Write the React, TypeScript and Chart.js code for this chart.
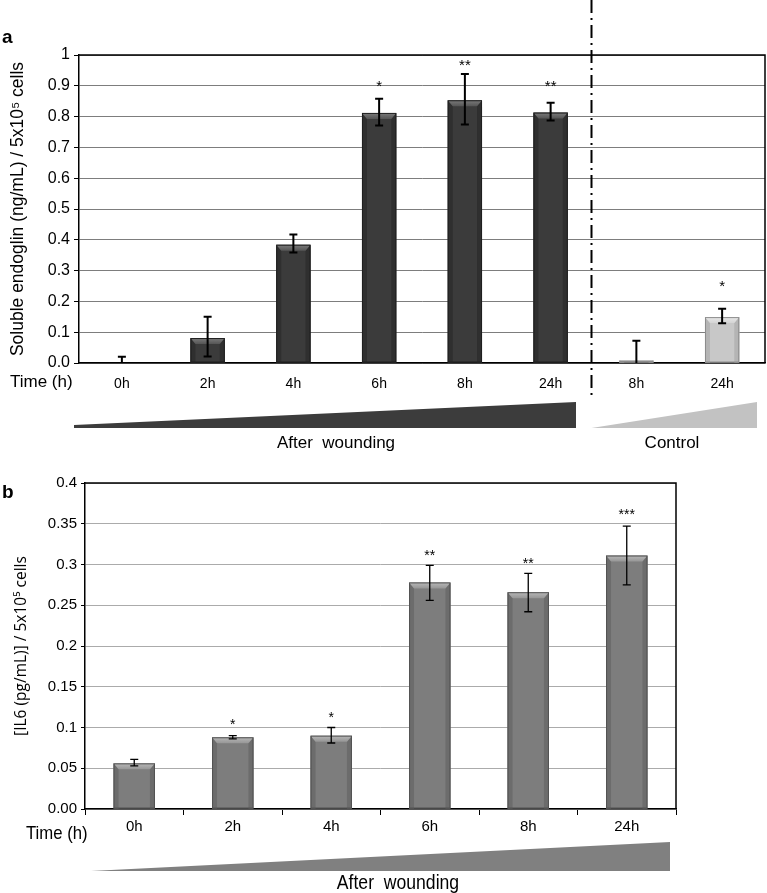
import React, { useEffect, useRef } from 'react';
import { Chart, registerables } from 'chart.js';

Chart.register(...registerables);

// ---------- Panel a data ----------
const categoriesA = ['0h', '2h', '4h', '6h', '8h', '24h', '8h', '24h'];
const groupA = ['wound', 'wound', 'wound', 'wound', 'wound', 'wound', 'control', 'control'];
const endoglin = [0, 0.081, 0.384, 0.812, 0.853, 0.813, 0.008, 0.149];
const endoglinLow = [0, 0.021, 0.359, 0.771, 0.774, 0.787, 0, 0.129];
const endoglinHigh = [0.02, 0.15, 0.417, 0.858, 0.938, 0.845, 0.072, 0.176];
const starsA = ['', '', '', '*', '**', '**', '', '*'];
const starsAPos: (number | null)[] = [null, null, null, 0.907, 0.975, 0.908, null, 0.26];
const yTicksA = ['0.0', '0.1', '0.2', '0.3', '0.4', '0.5', '0.6', '0.7', '0.8', '0.9', '1'];

// ---------- Panel b data ----------
const categoriesB = ['0h', '2h', '4h', '6h', '8h', '24h'];
const il6 = [0.056, 0.088, 0.090, 0.278, 0.266, 0.311];
const il6Low = [0.053, 0.086, 0.081, 0.256, 0.242, 0.275];
const il6High = [0.061, 0.090, 0.100, 0.299, 0.289, 0.347];
const starsB = ['', '*', '*', '**', '**', '***'];
const starsBPos: (number | null)[] = [null, 0.107, 0.115, 0.314, 0.305, 0.364];
const yTicksB = ['0.00', '0.05', '0.1', '0.15', '0.2', '0.25', '0.3', '0.35', '0.4'];

const SANS = "'Liberation Sans', Arial, sans-serif";
const OPEN = "'Open Sans', 'Noto Sans', sans-serif";

type Pal = { body: string; top: string; topDark: string; side: string; edge: string };
const WOUND: Pal = { body: '#3b3b3b', top: '#7c7c7c', topDark: '#555555', side: '#2f2f2f', edge: '#1f1f1f' };
const CONTROL: Pal = { body: '#c8c8c8', top: '#e8e8e8', topDark: '#d4d4d4', side: '#b4b4b4', edge: '#8c8c8c' };
const IL6P: Pal = { body: '#7d7d7d', top: '#b8b8b8', topDark: '#969696', side: '#6c6c6c', edge: '#525252' };

function narrowText(ctx: CanvasRenderingContext2D, text: string, x: number, y: number, sx: number) {
  ctx.save();
  ctx.translate(x, y);
  ctx.scale(sx, 1);
  ctx.fillText(text, 0, 0);
  ctx.restore();
}

function barDecor(
  palette: (i: number) => Pal,
  low: number[],
  high: number[],
  stars: string[],
  starPos: (number | null)[],
  errWidth: number,
  capW: number,
  starSize: number
) {
  return {
    id: 'barDecor',
    afterDatasetsDraw(chart: any) {
      const ctx = chart.ctx as CanvasRenderingContext2D;
      const meta = chart.getDatasetMeta(0);
      const ys = chart.scales.y;
      meta.data.forEach((el: any, i: number) => {
        const { x, y, base, width } = el.getProps(['x', 'y', 'base', 'width'], true);
        const p = palette(i);
        const l = x - width / 2;
        const r = x + width / 2;
        const t = Math.min(y, base);
        const b = Math.max(y, base);
        const h = b - t;
        ctx.save();
        if (h > 0.5) {
          const bev = Math.min(6, h / 2);
          const sd = Math.min(5, width / 4);
          ctx.fillStyle = p.side;
          ctx.beginPath();
          ctx.moveTo(l, t); ctx.lineTo(l + sd, t + bev); ctx.lineTo(l + sd, b); ctx.lineTo(l, b); ctx.closePath();
          ctx.fill();
          ctx.beginPath();
          ctx.moveTo(r, t); ctx.lineTo(r - sd, t + bev); ctx.lineTo(r - sd, b); ctx.lineTo(r, b); ctx.closePath();
          ctx.fill();
          const g = ctx.createLinearGradient(0, t, 0, t + bev);
          g.addColorStop(0, p.top);
          g.addColorStop(1, p.topDark);
          ctx.fillStyle = g;
          ctx.beginPath();
          ctx.moveTo(l, t); ctx.lineTo(r, t); ctx.lineTo(r - sd, t + bev); ctx.lineTo(l + sd, t + bev); ctx.closePath();
          ctx.fill();
          ctx.strokeStyle = p.edge;
          ctx.lineWidth = 1;
          ctx.strokeRect(l + 0.5, t + 0.5, width - 1, Math.max(0, h - 1));
        }
        const yl = ys.getPixelForValue(low[i]);
        const yh = ys.getPixelForValue(high[i]);
        ctx.strokeStyle = '#000';
        ctx.lineWidth = errWidth;
        ctx.beginPath();
        ctx.moveTo(x, yl); ctx.lineTo(x, yh);
        ctx.moveTo(x - capW / 2, yh); ctx.lineTo(x + capW / 2, yh);
        if (low[i] > 0) { ctx.moveTo(x - capW / 2, yl); ctx.lineTo(x + capW / 2, yl); }
        ctx.stroke();
        const sp = starPos[i];
        if (stars[i] && sp !== null) {
          ctx.fillStyle = '#000';
          ctx.font = `${starSize}px ${SANS}`;
          ctx.textAlign = 'center';
          ctx.textBaseline = 'middle';
          ctx.fillText(stars[i], x, ys.getPixelForValue(sp) + starSize * 0.23);
        }
        ctx.restore();
      });
    },
  };
}

const frameA = {
  id: 'frameA',
  afterDraw(chart: any) {
    const ctx = chart.ctx as CanvasRenderingContext2D;
    const ca = chart.chartArea;
    const xs = chart.scales.x;
    ctx.save();
    ctx.strokeStyle = '#000';
    ctx.lineWidth = 1.5;
    ctx.beginPath();
    ctx.moveTo(ca.left, ca.top); ctx.lineTo(ca.right, ca.top); ctx.lineTo(ca.right, ca.bottom);
    ctx.stroke();
    const dx = Math.round((xs.getPixelForValue(5) + xs.getPixelForValue(6)) / 2) - 2.5;
    ctx.setLineDash([13, 5, 2, 5]);
    ctx.lineWidth = 2;
    ctx.beginPath();
    ctx.moveTo(dx, 0); ctx.lineTo(dx, 400);
    ctx.stroke();
    ctx.setLineDash([]);
    ctx.fillStyle = '#3c3c3c';
    ctx.beginPath();
    ctx.moveTo(74, 425); ctx.lineTo(576, 402); ctx.lineTo(576, 428); ctx.lineTo(74, 428); ctx.closePath();
    ctx.fill();
    ctx.fillStyle = '#c2c2c2';
    ctx.beginPath();
    ctx.moveTo(dx, 428); ctx.lineTo(757, 402); ctx.lineTo(757, 428); ctx.closePath();
    ctx.fill();
    ctx.fillStyle = '#000';
    ctx.textBaseline = 'middle';
    ctx.font = `bold 19px ${SANS}`;
    ctx.textAlign = 'left';
    ctx.fillText('a', 2, 38);
    ctx.font = `17px ${SANS}`;
    ctx.fillText('Time (h)', 10, 382);
    ctx.textAlign = 'center';
    ctx.fillText('After  wounding', 336, 443);
    ctx.fillText('Control', 672, 443);
    ctx.restore();
  },
};

const frameB = {
  id: 'frameB',
  afterDraw(chart: any) {
    const ctx = chart.ctx as CanvasRenderingContext2D;
    const ca = chart.chartArea;
    ctx.save();
    ctx.strokeStyle = '#000';
    ctx.lineWidth = 1.5;
    ctx.beginPath();
    ctx.moveTo(ca.left, ca.top); ctx.lineTo(ca.right, ca.top); ctx.lineTo(ca.right, ca.bottom);
    ctx.stroke();
    ctx.fillStyle = '#808080';
    ctx.beginPath();
    ctx.moveTo(91, 411); ctx.lineTo(670, 382); ctx.lineTo(670, 411); ctx.closePath();
    ctx.fill();
    ctx.fillStyle = '#000';
    ctx.textBaseline = 'middle';
    ctx.font = `bold 19px ${SANS}`;
    ctx.textAlign = 'left';
    ctx.fillText('b', 2, 33);
    ctx.font = `19px ${SANS}`;
    narrowText(ctx, 'Time (h)', 26, 374, 0.88);
    ctx.textAlign = 'center';
    ctx.font = `20px ${SANS}`;
    narrowText(ctx, 'After  wounding', 398, 423, 0.88);
    ctx.restore();
  },
};

export default function App() {
  const refA = useRef<HTMLCanvasElement>(null);
  const refB = useRef<HTMLCanvasElement>(null);

  useEffect(() => {
    const palA = (i: number) => (groupA[i] === 'control' ? CONTROL : WOUND);
    const chartA = new Chart(refA.current as HTMLCanvasElement, {
      type: 'bar',
      data: {
        labels: categoriesA,
        datasets: [
          {
            data: endoglin,
            backgroundColor: categoriesA.map((_, i) => palA(i).body),
            borderWidth: 0,
            barPercentage: 0.4,
            categoryPercentage: 1,
          },
        ],
      },
      options: {
        animation: false,
        responsive: false,
        maintainAspectRatio: false,
        layout: { padding: { left: 0, right: 2, top: 55, bottom: 67 } },
        plugins: { legend: { display: false }, tooltip: { enabled: false } },
        scales: {
          x: {
            grid: { display: false },
            border: { display: true, color: '#000', width: 1.5 },
            ticks: { color: '#000', font: { family: SANS, size: 14 }, padding: 5, maxRotation: 0, autoSkip: false },
            afterFit: (s: any) => { s.height = 30; },
          },
          y: {
            min: 0,
            max: 1,
            ticks: {
              stepSize: 0.1,
              color: '#000',
              font: { family: SANS, size: 16 },
              padding: 4,
              callback: (_v: any, i: number) => yTicksA[i],
            },
            grid: { color: '#7d7d7d', lineWidth: 1, tickColor: '#000', tickLength: 5 },
            border: { color: '#000', width: 1.5 },
            title: {
              display: true,
              text: 'Soluble endoglin (ng/mL) / 5x10\u2075 cells',
              color: '#000',
              font: { family: SANS, size: 17.5 },
              padding: { top: 8, bottom: 0 },
            },
            afterFit: (s: any) => { s.width = 79; },
          },
        },
      } as any,
      plugins: [barDecor(palA, endoglinLow, endoglinHigh, starsA, starsAPos, 2, 8, 15), frameA],
    });

    const chartB = new Chart(refB.current as HTMLCanvasElement, {
      type: 'bar',
      data: {
        labels: categoriesB,
        datasets: [
          {
            data: il6,
            backgroundColor: IL6P.body,
            borderWidth: 0,
            barPercentage: 0.42,
            categoryPercentage: 1,
          },
        ],
      },
      options: {
        animation: false,
        responsive: false,
        maintainAspectRatio: false,
        layout: { padding: { left: 0, right: 91, top: 23, bottom: 54 } },
        plugins: { legend: { display: false }, tooltip: { enabled: false } },
        scales: {
          x: {
            grid: { display: true, drawOnChartArea: false, drawTicks: true, tickLength: 6, tickColor: '#000', offset: true },
            border: { display: true, color: '#000', width: 1.5 },
            ticks: { color: '#000', font: { family: SANS, size: 15 }, padding: 3, maxRotation: 0, autoSkip: false },
            afterFit: (s: any) => { s.height = 30; },
          },
          y: {
            min: 0,
            max: 0.4,
            ticks: {
              stepSize: 0.05,
              color: '#000',
              font: { family: SANS, size: 15 },
              padding: 4,
              callback: (_v: any, i: number) => yTicksB[i],
            },
            grid: { color: '#ababab', lineWidth: 1, tickColor: '#000', tickLength: 4 },
            border: { color: '#000', width: 1.5 },
            title: {
              display: true,
              text: '[IL6 (pg/mL)] / 5x10\u2075 cells',
              color: '#000',
              font: { family: OPEN, size: 15.5 },
              padding: { top: 12, bottom: 0 },
            },
            afterFit: (s: any) => { s.width = 85; },
          },
        },
      } as any,
      plugins: [barDecor(() => IL6P, il6Low, il6High, starsB, starsBPos, 1.3, 8, 14), frameB],
    });

    return () => {
      chartA.destroy();
      chartB.destroy();
    };
  }, []);

  return (
    <div style={{ position: 'absolute', left: 0, top: 0, width: 767, height: 893, background: '#fff' }}>
      <canvas ref={refA} width={767} height={460} style={{ position: 'absolute', left: 0, top: 0, width: 767, height: 460 }} />
      <canvas ref={refB} width={767} height={433} style={{ position: 'absolute', left: 0, top: 460, width: 767, height: 433 }} />
    </div>
  );
}
